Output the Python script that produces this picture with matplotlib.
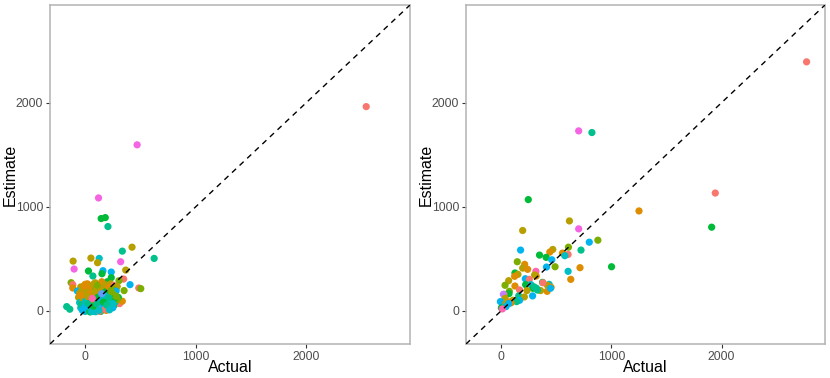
import numpy as np
import matplotlib.pyplot as plt

plt.rcParams['font.family'] = ['Liberation Sans', 'DejaVu Sans']

# ggplot hue palette, 12 groups
palette = ['#F8766D', '#DE8C00', '#B79F00', '#7CAE00', '#00BA38', '#00C08B',
           '#00BFC4', '#00B4F0', '#619CFF', '#C77CFF', '#F564E3', '#FF64B0']

# left panel: (actual, estimate, group)
left_points = [
    (2542, 1962, 0), (470, 1595, 10), (121, 1085, 10), (145, 887, 4), (182, 896, 4),
    (206, 810, 5), (424, 612, 2), (336, 574, 5), (624, 504, 5), (127, 504, 6),
    (52, 507, 2), (-109, 478, 2), (321, 472, 10), (112, 463, 2), (-100, 402, 10),
    (30, 383, 4), (367, 392, 2), (161, 386, 7), (236, 373, 7), (70, 335, 5),
    (152, 357, 4), (236, 319, 4), (348, 306, 0), (306, 290, 3), (-127, 271, 3),
    (-112, 252, 0), (-112, 220, 1), (406, 252, 7), (485, 220, 0), (503, 214, 3),
    (352, 195, 3), (279, 207, 1), (-167, 41, 5), (-139, 16, 5), (264, 57, 4),
    (294, 99, 5), (312, 70, 0), (336, 93, 1),
    (0, 255, 1), (20, 260, 1), (60, 240, 2), (90, 270, 2), (130, 250, 4), (170, 230, 3),
    (200, 280, 4), (230, 260, 2), (260, 245, 0), (290, 235, 2), (-40, 230, 2), (150, 280, 1),
    (-70, 190, 7), (-30, 200, 2), (10, 210, 1), (40, 190, 2), (70, 220, 4), (100, 200, 1),
    (130, 185, 3), (160, 215, 2), (190, 200, 4), (220, 180, 5), (250, 210, 3), (280, 190, 7),
    (-50, 170, 2), (120, 230, 1),
    (-60, 130, 2), (-20, 150, 1), (0, 120, 2), (30, 160, 4), (60, 140, 1), (80, 125, 2),
    (110, 165, 2), (140, 150, 7), (170, 130, 5), (200, 160, 4), (230, 140, 2), (260, 155, 3),
    (300, 130, 4), (-30, 110, 1), (90, 150, 1), (150, 110, 1),
    (-50, 80, 6), (-20, 90, 2), (10, 70, 7), (40, 100, 1), (60, 60, 2), (90, 95, 4),
    (120, 80, 7), (150, 60, 6), (180, 95, 7), (210, 75, 6), (240, 100, 4), (270, 85, 5),
    (290, 110, 3), (20, 110, 9), (100, 105, 8), (160, 120, 7), (200, 110, 6),
    (-40, 30, 6), (-10, 15, 5), (10, 40, 7), (30, 5, 4), (50, 25, 6), (70, 0, 5),
    (90, 35, 7), (110, 10, 4), (130, 45, 6), (150, 20, 0), (170, 40, 7), (190, 5, 1),
    (210, 30, 6), (230, 50, 4), (-20, 50, 1), (40, 55, 10), (60, 20, 4), (80, -5, 5),
    (100, 55, 6), (120, 25, 9), (140, -5, 4), (160, 60, 7), (180, 15, 0), (0, -5, 6),
    (20, 25, 4), (250, 30, 7), (45, -10, 4), (95, -8, 6), (130, -3, 0),
    (-10, 240, 1), (35, 225, 1), (75, 255, 2), (110, 240, 3), (185, 250, 2), (215, 230, 1),
    (-45, 150, 1), (15, 180, 2), (50, 170, 1), (85, 185, 2), (145, 195, 2), (175, 175, 4),
    (235, 195, 3), (265, 120, 4), (-35, 60, 5), (5, 95, 6), (25, 135, 2), (70, 105, 1),
    (115, 130, 4), (135, 95, 7), (185, 140, 6), (215, 125, 5), (250, 70, 6), (280, 140, 3),
    (-5, 35, 7), (25, 70, 5), (55, -5, 6), (75, 45, 4), (105, 70, 5), (125, 5, 6),
    (165, 85, 4), (195, 55, 5), (220, 10, 6), (-25, 5, 7), (150, 165, 8), (65, 120, 11),
]

right_points = [
    (2771, 2392, 0), (704, 1729, 10), (824, 1713, 5), (247, 1069, 4), (1943, 1132, 0),
    (1251, 960, 1), (1910, 804, 4), (620, 864, 2), (704, 788, 10), (196, 772, 2),
    (878, 679, 3), (800, 660, 7), (177, 584, 7), (725, 584, 5), (469, 590, 2),
    (442, 565, 1), (611, 612, 3), (608, 542, 0), (557, 555, 1), (578, 530, 6),
    (349, 536, 4), (409, 514, 4), (460, 491, 7), (147, 472, 3), (214, 447, 1),
    (1002, 424, 4), (716, 415, 1), (490, 424, 3), (196, 411, 2), (241, 399, 1),
    (412, 421, 7), (608, 380, 6), (126, 364, 4), (153, 351, 2), (316, 380, 11),
    (123, 332, 1), (319, 335, 1), (304, 345, 2), (220, 309, 7), (256, 303, 0),
    (632, 303, 1), (69, 290, 2), (376, 274, 4), (36, 246, 3), (223, 252, 4),
    (126, 239, 1), (271, 252, 6), (436, 255, 6), (421, 246, 2), (168, 201, 0),
    (289, 217, 4), (322, 217, 5), (454, 226, 1), (418, 188, 1), (358, 195, 2),
    (448, 217, 7), (75, 188, 3), (72, 166, 4), (235, 195, 2), (160, 144, 5),
    (27, 159, 2), (21, 159, 9), (286, 144, 7), (211, 134, 2), (36, 121, 2),
    (-6, 89, 7), (75, 86, 1), (108, 102, 2), (168, 102, 7), (141, 89, 5),
    (90, 77, 1), (45, 73, 2), (45, 41, 7), (3, 29, 4), (12, 19, 11), (69, 70, 7),
    (300, 230, 5), (330, 200, 5), (380, 270, 0),
]

lims = (-318, 2938)
ticks = [0, 1000, 2000]

fig = plt.figure(figsize=(8.3, 3.78), dpi=100)
ax1 = fig.add_axes([50 / 830, 34 / 378, 360 / 830, 339 / 378])
ax2 = fig.add_axes([466 / 830, 34 / 378, 359 / 830, 339 / 378])

for ax, pts in [(ax1, left_points), (ax2, right_points)]:
    x = [p[0] for p in pts]
    y = [p[1] for p in pts]
    c = [palette[p[2]] for p in pts]
    ax.scatter(x, y, c=c, s=27, linewidths=0, zorder=2)
    ax.plot(lims, lims, color='black', ls=(0, (4, 3.5)), lw=1.0, zorder=3)
    ax.set_xlim(lims)
    ax.set_ylim(lims)
    ax.set_xticks(ticks)
    ax.set_yticks(ticks)
    ax.tick_params(colors='#4D4D4D', labelsize=8.8, length=3, width=0.8, pad=2)
    ax.tick_params(axis='both', color='#333333')
    for s in ax.spines.values():
        s.set_color('#B3B3B3')
        s.set_linewidth(1.1)
    ax.set_xlabel('Actual', fontsize=11.5)
    ax.set_ylabel('Estimate', fontsize=11.5)
    ax.xaxis.set_label_coords(0.5, -0.068)
    ax.xaxis.label.set_va('center')
    ax.yaxis.set_label_coords(-0.111, 0.5)
    ax.yaxis.label.set_va('center')

fig.savefig('out.png', dpi=100)
